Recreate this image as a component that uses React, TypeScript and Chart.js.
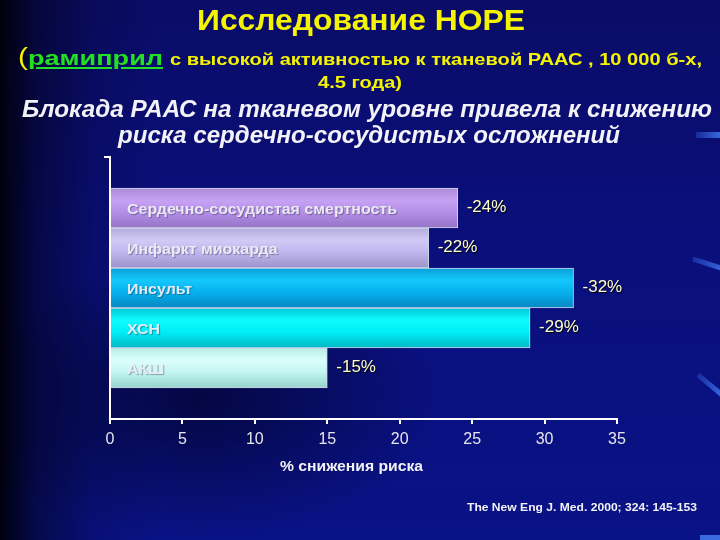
import React, { useEffect, useLayoutEffect, useRef } from "react";
import { Chart, registerables } from "chart.js";

Chart.register(...registerables);

// ---- data ----
const categories = [
  "Сердечно-сосудистая смертность",
  "Инфаркт миокарда",
  "Инсульт",
  "ХСН",
  "АКШ",
];
const riskReduction = [24, 22, 32, 29, 15];
const valueLabels = ["-24%", "-22%", "-32%", "-29%", "-15%"];
const xTickValues = [0, 5, 10, 15, 20, 25, 30, 35];
const barColors = [
  ["#a98ad6", "#c7a2f4", "#b48fe6", "#9474c6"],
  ["#b2aadc", "#d2caf6", "#c0b7ee", "#9a92c8"],
  ["#0a9ed8", "#14c8fb", "#06b2ee", "#0886c2"],
  ["#00c8d4", "#10fbff", "#00eef8", "#00b8c4"],
  ["#b6ece6", "#dcfffc", "#c4f6f2", "#96d2cc"],
];

const titleText = "Исследование НОРЕ";
const drugText = "рамиприл";
const subtitleRest = "с высокой активностью к тканевой РААС , 10 000 б-х,";
const subtitleLine2 = "4.5 года)";
const headline1 = "Блокада РААС на тканевом уровне привела к снижению";
const headline2 = "риска сердечно-сосудистых осложнений";
const axisTitle = "% снижения риска";
const sourceText = "The New Eng J.  Med. 2000; 324: 145-153";

const FONT = "'Liberation Sans', Arial, Helvetica, sans-serif";

function FitText(props: {
  left: number;
  width: number;
  baseline: number;
  size: number;
  style?: React.CSSProperties;
  children: React.ReactNode;
}) {
  const ref = useRef<HTMLDivElement>(null);
  useLayoutEffect(() => {
    const el = ref.current;
    if (!el) return;
    el.style.transform = "none";
    const w = el.getBoundingClientRect().width;
    if (w > 0) el.style.transform = `scaleX(${props.width / w})`;
  });
  return (
    <div
      ref={ref}
      style={{
        position: "absolute",
        left: props.left,
        top: props.baseline - 0.8465 * props.size,
        fontSize: props.size,
        lineHeight: 1,
        whiteSpace: "nowrap",
        fontFamily: FONT,
        transformOrigin: "0 0",
        ...props.style,
      }}
    >
      {props.children}
    </div>
  );
}

export default function App() {
  const canvasRef = useRef<HTMLCanvasElement>(null);

  useEffect(() => {
    const canvas = canvasRef.current;
    if (!canvas) return;

    const labelPlugin = {
      id: "barLabels",
      afterDatasetsDraw(chart: any) {
        const ctx = chart.ctx;
        const meta = chart.getDatasetMeta(0);
        const area = chart.chartArea;
        meta.data.forEach((bar: any, i: number) => {
          // category name inside the bar (slightly stretched like the original slide)
          ctx.save();
          ctx.translate(area.left + 17, bar.y + 2);
          ctx.scale(1.14, 1);
          ctx.textBaseline = "middle";
          ctx.textAlign = "left";
          ctx.font = `bold 14px ${FONT}`;
          ctx.shadowColor = "rgba(0,0,40,0.35)";
          ctx.shadowOffsetX = 1;
          ctx.shadowOffsetY = 1;
          ctx.shadowBlur = 1;
          ctx.fillStyle = "rgba(238,238,246,0.95)";
          ctx.fillText(categories[i], 0, 0);
          ctx.restore();
          // value label at the bar end
          ctx.save();
          ctx.textBaseline = "middle";
          ctx.textAlign = "left";
          ctx.font = `17px ${FONT}`;
          ctx.shadowColor = "rgba(0,0,0,0.9)";
          ctx.shadowOffsetX = 1;
          ctx.shadowOffsetY = 1;
          ctx.shadowBlur = 1;
          ctx.fillStyle = "#ffffc8";
          ctx.fillText(valueLabels[i], bar.x + 9, bar.y - 1);
          ctx.restore();
        });
        // small tick at the top of the value axis
        ctx.save();
        ctx.strokeStyle = "#ffffff";
        ctx.lineWidth = 2;
        ctx.beginPath();
        ctx.moveTo(area.left - 6, area.top);
        ctx.lineTo(area.left, area.top);
        ctx.stroke();
        ctx.restore();
      },
    };

    const chart = new Chart(canvas, {
      type: "bar",
      data: {
        datasets: [
          {
            data: riskReduction.map((v, i) => ({ x: v, y: i })) as any,
            barPercentage: 1,
            categoryPercentage: 1,
            grouped: false,
            borderWidth: { top: 1, right: 1, bottom: 1, left: 0 } as any,
            borderColor: "rgba(240,244,255,0.85)",
            backgroundColor: (c: any) => {
              const cols = barColors[c.dataIndex] || barColors[0];
              const ys = c.chart.scales?.y;
              if (!ys || c.type !== "data") return cols[2];
              const mid = ys.getPixelForValue(c.dataIndex);
              const half = Math.abs(ys.getPixelForValue(c.dataIndex + 0.5) - mid);
              if (!isFinite(mid) || !isFinite(half) || half <= 0) return cols[2];
              const g = c.chart.ctx.createLinearGradient(0, mid - half, 0, mid + half);
              g.addColorStop(0, cols[0]);
              g.addColorStop(0.3, cols[1]);
              g.addColorStop(0.6, cols[2]);
              g.addColorStop(1, cols[3]);
              return g;
            },
          },
        ],
      },
      options: {
        indexAxis: "y",
        animation: false,
        responsive: false,
        devicePixelRatio: 1,
        layout: { padding: { left: 110, top: 157, right: 103, bottom: 61 } },
        plugins: {
          legend: { display: false },
          tooltip: { enabled: false },
        },
        scales: {
          y: {
            type: "linear",
            bounds: "data",
            offset: false,
            reverse: true,
            min: -1.275,
            max: 5.275,
            afterBuildTicks: (s: any) => {
              s.ticks = categories.map((_, i) => ({ value: i }));
            },
            ticks: { display: false },
            grid: { display: false, offset: false },
            border: { display: true, color: "#ffffff", width: 2 },
            afterFit: (s: any) => {
              s.width = 0;
            },
          },
          x: {
            type: "linear",
            min: 0,
            max: 35,
            afterBuildTicks: (s: any) => {
              s.ticks = xTickValues.map((v) => ({ value: v }));
            },
            ticks: {
              color: "#e6e6ee",
              font: { family: FONT, size: 16 },
              padding: 6,
            },
            grid: {
              drawOnChartArea: false,
              drawTicks: true,
              tickLength: 5,
              color: "#ffffff",
              lineWidth: 2,
            },
            border: { display: true, color: "#ffffff", width: 2 },
            afterFit: (s: any) => {
              s.height = 60;
            },
          },
        },
      },
      plugins: [labelPlugin],
    } as any);

    return () => chart.destroy();
  }, []);

  return (
    <div
      style={{
        position: "absolute",
        left: 0,
        top: 0,
        width: 720,
        height: 540,
        overflow: "hidden",
        background:
          "linear-gradient(90deg, rgba(0,0,8,0.95) 0%, rgba(0,0,16,0.5) 5%, rgba(0,0,20,0.15) 13%, rgba(0,0,0,0) 22%)," +
          "radial-gradient(ellipse 240px 140px at 200px 400px, rgba(0,0,25,0.6), rgba(0,0,0,0))," +
          "linear-gradient(180deg, #0a0c66 0%, #0a0f7a 40%, #091286 100%)",
      }}
    >
      {/* decorative streaks on the right */}
      <div style={{ position: "absolute", left: 696, top: 132, width: 30, height: 6, background: "linear-gradient(90deg, rgba(60,110,240,0.3), #3f78f0)", filter: "blur(0.6px)" }} />
      <div style={{ position: "absolute", left: 692, top: 262, width: 36, height: 5, background: "linear-gradient(90deg, rgba(60,110,240,0.3), #3a70ea)", transform: "rotate(18deg)", filter: "blur(0.6px)" }} />
      <div style={{ position: "absolute", left: 694, top: 384, width: 36, height: 5, background: "linear-gradient(90deg, rgba(60,110,240,0.3), #3a70ea)", transform: "rotate(40deg)", filter: "blur(0.6px)" }} />
      <div style={{ position: "absolute", left: 700, top: 535, width: 24, height: 5, background: "#3a6ae0", filter: "blur(0.6px)" }} />

      <canvas
        ref={canvasRef}
        width={720}
        height={540}
        style={{ position: "absolute", left: 0, top: 0, width: 720, height: 540 }}
      />

      <FitText left={197} width={328} baseline={31} size={29} style={{ color: "#f4f400", fontWeight: "bold" }}>
        {titleText}
      </FitText>
      <FitText left={18} width={145} baseline={64} size={21} style={{ color: "#f4f400", fontWeight: "bold" }}>
        <span style={{ fontWeight: "normal", fontSize: 23 }}>(</span>
        <span style={{ color: "#22e022", textDecoration: "underline" }}>{drugText}</span>
      </FitText>
      <FitText left={170} width={532} baseline={65} size={16.5} style={{ color: "#f4f400", fontWeight: "bold" }}>
        {subtitleRest}
      </FitText>
      <FitText left={318} width={84} baseline={88} size={16.5} style={{ color: "#f4f400", fontWeight: "bold" }}>
        {subtitleLine2}
      </FitText>
      <FitText left={22} width={690} baseline={117} size={24} style={{ color: "#f2f2f8", fontWeight: "bold", fontStyle: "italic" }}>
        {headline1}
      </FitText>
      <FitText left={118} width={502} baseline={143} size={24} style={{ color: "#f2f2f8", fontWeight: "bold", fontStyle: "italic" }}>
        {headline2}
      </FitText>
      <FitText left={280} width={143} baseline={471} size={15} style={{ color: "#f2f2f8", fontWeight: "bold" }}>
        {axisTitle}
      </FitText>
      <FitText left={467} width={230} baseline={511} size={11} style={{ color: "#f2f2f8", fontWeight: "bold" }}>
        {sourceText}
      </FitText>
    </div>
  );
}
